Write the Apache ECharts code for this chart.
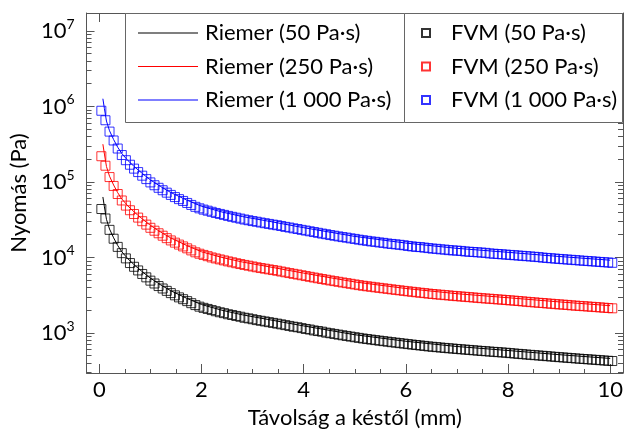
<!DOCTYPE html>
<html>
<head>
<meta charset="utf-8">
<script src="https://cdn.jsdelivr.net/npm/echarts@6/dist/echarts.min.js"></script>
<style>
html, body { margin: 0; padding: 0; background: #fff; }
#chart { width: 631px; height: 434px; }
</style>
</head>
<body>
<div id="chart"></div>
<script>
// FVM szimuláció pontjai (mm)
var fvmX = [0.04,0.12,0.20,0.28,0.36,0.44,0.52,0.60,0.68,0.76,0.84,0.92,1.00,1.08,1.16,1.24,1.32,1.40,1.48,1.56,1.64,1.72,1.80,1.88,
    1.96,2.04,2.12,2.20,2.28,2.36,2.44,2.52,2.60,2.68,2.76,2.84,2.92,3.00,3.08,3.16,3.24,3.32,3.40,3.48,
    3.56,3.64,3.72,3.80,3.88,3.96,
    4.04,4.12,4.20,4.28,4.36,4.44,4.52,4.60,4.68,4.76,4.84,4.92,5.00,5.08,5.16,5.24,5.32,5.40,5.48,5.56,5.64,5.72,5.80,5.88,5.96,6.04,6.12,6.20,6.28,6.36,6.44,6.52,
    6.60,6.68,6.76,6.84,6.92,7.00,7.08,7.16,7.24,7.32,7.40,7.48,7.56,7.64,7.72,7.80,7.88,
    7.96,8.04,8.12,8.20,8.28,8.36,8.44,8.52,8.60,8.68,8.76,8.84,8.92,9.00,9.08,9.16,9.24,9.32,9.40,9.48,9.56,9.64,9.72,9.80,9.88,9.96,10.04];

var fvm50 = [43800,32800,23200,17700,13800,11400,9720,8430,7520,6730,6040,5450,4930,4520,4180,3880,3610,3370,3150,2960,2800,2640,2480,2340,
    2230,2150,2080,2010,1940,1880,1830,1770,1730,1680,1640,1590,1560,1520,1480,1450,1420,1390,1360,1330,
    1300,1270,1240,1210,1190,1160,
    1130,1110,1080,1060,1040,1010,992,971,951,932,913,895,878,861,845,831,817,804,791,779,767,755,744,733,723,712,702,692,683,674,664,656,
    649,641,634,627,621,614,608,602,596,590,584,578,573,567,562,557,552,
    547,541,535,529,524,518,513,508,503,498,493,488,483,478,474,469,465,460,456,452,448,444,440,436,432,428,425];

var fvm250 = [219000,164000,116000,88500,69200,56800,48600,42200,37600,33700,30200,27200,24700,22600,20900,19400,18000,16800,15700,14800,14000,13200,12400,11700,
    11200,10800,10400,10000,9700,9420,9140,8870,8630,8390,8180,7960,7780,7590,7410,7240,7100,6950,6810,6670,
    6510,6360,6210,6070,5940,5810,
    5670,5540,5420,5300,5180,5070,4960,4860,4760,4660,4570,4480,4390,4300,4220,4150,4090,4020,3960,3900,3840,3780,3720,3670,3610,3560,3510,3460,3410,3370,3320,3280,
    3240,3210,3170,3140,3100,3070,3040,3010,2980,2950,2920,2890,2860,2840,2810,2780,2760,
    2730,2700,2680,2650,2620,2590,2560,2540,2510,2490,2460,2440,2410,2390,2370,2350,2320,2300,2280,2260,2240,2220,2200,2180,2160,2140,2120];

var fvm1000 = [876000,656000,464000,354000,277000,227000,194000,169000,150000,135000,121000,109000,98600,90400,83600,77600,72100,67300,63000,59200,56000,52700,49600,46800,
    44700,43000,41600,40200,38800,37700,36600,35500,34500,33600,32700,31800,31100,30300,29700,29000,28400,27800,27200,26700,
    26100,25400,24900,24300,23800,23200,
    22700,22200,21700,21200,20700,20300,19800,19400,19000,18600,18300,17900,17600,17200,16900,16600,16300,16100,15800,15600,15300,15100,14900,14700,14500,14200,14000,13800,13700,13500,13300,13100,
    13000,12800,12700,12500,12400,12300,12200,12000,11900,11800,11700,11600,11500,11300,11200,11100,11000,
    10900,10800,10700,10600,10500,10400,10300,10200,10100,9950,9850,9750,9660,9560,9470,9380,9300,9210,9120,9040,8960,8880,8800,8720,8640,8570,8490];

// Riemer-féle analitikus görbék
var riemerX = [0.07,0.10,0.14,0.20,0.28,0.36,0.44,0.56,0.70,0.85,1.0,1.2,1.4,1.7,2.0,2.4,2.8,3.3,4.0,5.0,6.0,7.0,8.0,9.0,10.0];
var riemer50 = [63200,46800,32000,23800,18200,14400,11900,9600,7800,6400,5320,4340,3620,2900,2380,2000,1740,1510,1240,948,776,662,586,516,460];
var riemer250 = [316000,234000,160000,119000,91000,72000,59500,48000,39000,32000,26600,21700,18100,14500,11900,10000,8700,7570,6200,4740,3880,3310,2930,2580,2300];
var riemer1000 = [1264000,936000,640000,476000,364000,288000,238000,192000,156000,128000,106400,86800,72400,58000,47600,40000,34800,30300,24800,19000,15500,13200,11700,10300,9200];

var xMajorTicks = [0, 2, 4, 6, 8, 10];
var xMinorTicks = [0.5, 1, 1.5, 2.5, 3, 3.5, 4.5, 5, 5.5, 6.5, 7, 7.5, 8.5, 9, 9.5];
var yMajorTicks = [1e3, 1e4, 1e5, 1e6, 1e7];
var yMinorTicks = [300, 400, 500, 600, 700, 800, 900,
    2000, 3000, 4000, 5000, 6000, 7000, 8000, 9000,
    20000, 30000, 40000, 50000, 60000, 70000, 80000, 90000,
    200000, 300000, 400000, 500000, 600000, 700000, 800000, 900000,
    2000000, 3000000, 4000000, 5000000, 6000000, 7000000, 8000000, 9000000];

var riemerNames = ['Riemer (50 Pa·s)', 'Riemer (250 Pa·s)', 'Riemer (1 000 Pa·s)'];
var fvmNames = ['FVM (50 Pa·s)', 'FVM (250 Pa·s)', 'FVM (1 000 Pa·s)'];
var colors = ['#000000', '#ff0000', '#0000ff'];

var font = 'Lato, "Open Sans", sans-serif';
var axisColor = '#555';

var pairs = function(xs, ys) {
    var res = [];
    for (var i = 0; i < xs.length; i++) {
        res.push([xs[i], ys[i]]);
    }
    return res;
};

var xAxisDef = function(pos, ticks, len, major) {
    return {
        type: 'value', position: pos, min: -0.25, max: 10.25,
        axisLine: {show: major, onZero: false, lineStyle: {color: axisColor, width: 1}},
        axisTick: {show: true, inside: true, length: len, customValues: ticks, lineStyle: {color: axisColor}},
        axisLabel: {show: false},
        splitLine: {show: false}
    };
};

var yAxisDef = function(pos, ticks, len, major) {
    return {
        type: 'log', logBase: 10, position: pos, min: 295, max: 17260000,
        axisLine: {show: major, onZero: false, lineStyle: {color: axisColor, width: 1}},
        axisTick: {show: true, inside: true, length: len, customValues: ticks, lineStyle: {color: axisColor}},
        axisLabel: {show: false},
        splitLine: {show: false}
    };
};

var xBottom = xAxisDef('bottom', xMajorTicks, 9, true);
xBottom.axisLabel = {show: true, customValues: xMajorTicks, margin: 6, fontSize: 22, fontFamily: font, color: '#000'};
xBottom.name = 'Távolság a késtől (mm)';
xBottom.nameLocation = 'middle';
xBottom.nameGap = 34;
xBottom.nameTextStyle = {fontSize: 22, fontFamily: font, color: '#000'};

var yLeft = yAxisDef('left', yMajorTicks, 8, true);
yLeft.axisLabel = {
    show: true, customValues: yMajorTicks, margin: 12, color: '#000',
    formatter: function(v) {
        return '{b|10}{e|' + Math.round(Math.log(v) / Math.LN10) + '}';
    },
    rich: {
        b: {fontSize: 22, fontFamily: font, color: '#000', lineHeight: 26},
        e: {fontSize: 14, fontFamily: font, color: '#000', padding: [0, 0, 13, 0]}
    }
};
yLeft.name = 'Nyomás (Pa)';
yLeft.nameLocation = 'middle';
yLeft.nameGap = 46;
yLeft.nameTextStyle = {fontSize: 22, fontFamily: font, color: '#000'};

var series = [];
var fvmData = [fvm50, fvm250, fvm1000];
var riemerData = [riemer50, riemer250, riemer1000];
for (var i = 0; i < 3; i++) {
    series.push({
        name: fvmNames[i], type: 'scatter', xAxisIndex: 0, yAxisIndex: 0,
        symbol: 'rect', symbolSize: 9,
        itemStyle: {color: 'rgba(255,255,255,0)', borderColor: colors[i], borderWidth: 1},
        data: pairs(fvmX, fvmData[i]), z: 2
    });
}
for (var j = 0; j < 3; j++) {
    series.push({
        name: riemerNames[j], type: 'line', xAxisIndex: 0, yAxisIndex: 0,
        showSymbol: false, symbol: 'none',
        lineStyle: {color: colors[j], width: 1},
        itemStyle: {color: colors[j]},
        data: pairs(riemerX, riemerData[j]), z: 3
    });
}

var option = {
    animation: false,
    backgroundColor: '#fff',
    grid: {left: 83, right: 8, top: 13, bottom: 59, show: false},
    xAxis: [xBottom, xAxisDef('bottom', xMinorTicks, 4, false), xAxisDef('top', xMajorTicks, 9, true), xAxisDef('top', xMinorTicks, 4, false)],
    yAxis: [yLeft, yAxisDef('left', yMinorTicks, 5, false), yAxisDef('right', yMajorTicks, 8, true), yAxisDef('right', yMinorTicks, 5, false)],
    legend: [
        {
            data: riemerNames, orient: 'vertical', left: 138, top: 21, padding: 0,
            icon: 'rect', itemWidth: 60, itemHeight: 1, itemGap: 9.5, selectedMode: false,
            textStyle: {fontSize: 22, fontFamily: font, color: '#000', lineHeight: 24, padding: [0, 0, 0, 2]}
        },
        {
            data: fvmNames, orient: 'vertical', left: 421, top: 21, padding: 0,
            itemWidth: 8, itemHeight: 8, itemGap: 9.5, selectedMode: false,
            textStyle: {fontSize: 22, fontFamily: font, color: '#000', lineHeight: 24, padding: [0, 0, 0, 16]}
        }
    ],
    graphic: [
        {type: 'rect', z: 3, shape: {x: 125.5, y: 13.5, width: 279, height: 109}, style: {fill: '#fff', stroke: '#666', lineWidth: 1}},
        {type: 'rect', z: 3, shape: {x: 404.5, y: 13.5, width: 218, height: 109}, style: {fill: '#fff', stroke: '#666', lineWidth: 1}}
    ],
    series: series
};

var chart = echarts.init(document.getElementById('chart'));
chart.setOption(option);
</script>
</body>
</html>
